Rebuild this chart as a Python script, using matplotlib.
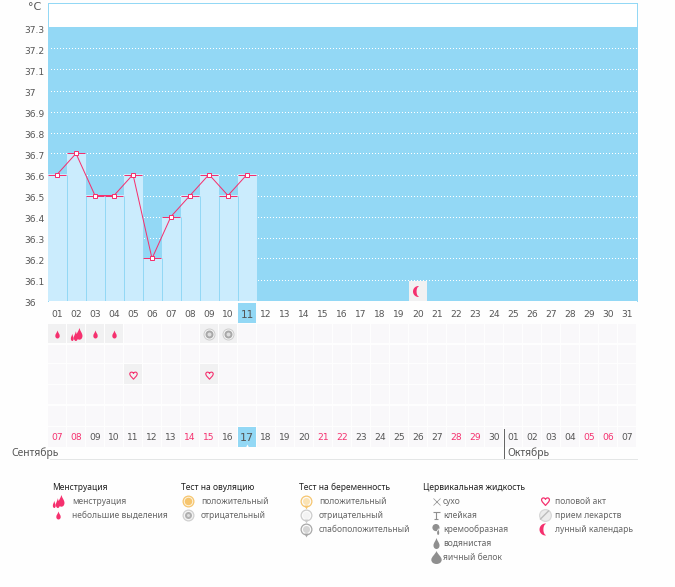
import numpy as np
import matplotlib
matplotlib.use("Agg")
import matplotlib.pyplot as plt
from matplotlib.path import Path
from matplotlib.patches import Rectangle
from matplotlib.transforms import Affine2D

# ---------- data ----------
days = list(range(1, 32))
temps = [36.6, 36.7, 36.5, 36.5, 36.6, 36.2, 36.4, 36.5, 36.6, 36.5, 36.6]
temp_days = days[:len(temps)]
y_ticks = [36, 36.1, 36.2, 36.3, 36.4, 36.5, 36.6, 36.7, 36.8, 36.9, 37, 37.1, 37.2, 37.3]
y_labels = ["36", "36.1", "36.2", "36.3", "36.4", "36.5", "36.6", "36.7", "36.8", "36.9", "37", "37.1", "37.2", "37.3"]
cycle_labels = [f"{d:02d}" for d in days]
cal_labels = ["07","08","09","10","11","12","13","14","15","16","17","18","19","20","21","22",
              "23","24","25","26","27","28","29","30","01","02","03","04","05","06","07"]
weekend_days = [1, 2, 8, 9, 15, 16, 22, 23, 29, 30]
today = 11
light_days = [1, 3, 4]
heavy_days = [2]
ovul_neg_days = [9, 10]
sex_days = [5, 9]
moon_days = [20]

leg_titles = ["Менструация", "Тест на овуляцию", "Тест на беременность", "Цервикальная жидкость"]
leg_mens = ["менструация", "небольшие выделения"]
leg_ovul = ["положительный", "отрицательный"]
leg_preg = ["положительный", "отрицательный", "слабоположительный"]
leg_fluid = ["сухо", "клейкая", "кремообразная", "водянистая", "яичный белок"]
leg_other = ["половой акт", "прием лекарств", "лунный календарь"]

# ---------- style ----------
W, H = 675, 587
BLUE = "#93d8f5"; PALE = "#cbecfd"; PINK = "#f5306e"; TXT = "#555555"
CELL = "#f9f8fa"; CELL_ON = "#f1f1f2"
plt.rcParams["font.family"] = ["DejaVu Sans"]
FS = 6.6
LEG_FONT = ["Noto Sans", "DejaVu Sans"]
LFS = 6.1

def drop(cx=0.0, cy=0.0, w=1.0, h=1.0):
    v = np.array([(0, 1), (0.15, .45), (.55, .1), (.55, -.35), (.55, -.8), (.25, -1), (0, -1),
                  (-.25, -1), (-.55, -.8), (-.55, -.35), (-.55, .1), (-.15, .45), (0, 1), (0, 1)], float)
    v = v * [w, h] + [cx, cy]
    c = [Path.MOVETO] + [Path.CURVE4] * 12 + [Path.CLOSEPOLY]
    return Path(v, c)

def crescent():
    t = np.linspace(np.pi * .5, np.pi * 1.5, 40)
    outer = np.c_[np.cos(t), np.sin(t)]
    inner = np.c_[0.1 + .45 * np.cos(t[::-1]), .92 * np.sin(t[::-1])]
    return Path(np.r_[outer, inner, outer[:1]], closed=True)

def heart():
    v = np.array([(0, -1), (-.4, -.5), (-1, -.1), (-1, .45), (-1, .95), (-.25, 1.15), (0, .55),
                  (.25, 1.15), (1, .95), (1, .45), (1, -.1), (.4, -.5), (0, -1), (0, -1)], float)
    return Path(v, [Path.MOVETO] + [Path.CURVE4] * 12 + [Path.CLOSEPOLY])

DROP = drop()
HEAVY = Path.make_compound_path(drop(.45, .1, .85, .9), drop(-.1, -.25, .55, .75), drop(-.65, -.45, .4, .55))
MOON = crescent(); HEART = heart()
COMMA = Path.make_compound_path(Path.circle((-.1, .35), .65), drop(.3, -.35, .35, .65))
GLASS = Path([(-1, 1), (1, 1), (0, 1), (0, -1), (-.6, -1), (.6, -1)],
             [Path.MOVETO, Path.LINETO, Path.MOVETO, Path.LINETO, Path.MOVETO, Path.LINETO])

def ms(px):
    return px * 0.72

fig = plt.figure(figsize=(W / 100, H / 100), dpi=100, facecolor="#fefefe")

def px_axes(x0, x1, ytop, ybot):
    return fig.add_axes([x0 / W, 1 - ybot / H, (x1 - x0) / W, (ybot - ytop) / H])

X0, X1 = 47.5, 636.5
PXU = 210.0                      # pixels per degree
Y_BOT = 36 - .5 / PXU            # pixel row 301
Y_BAND = 37.3 + .5 / PXU         # pixel row 27
Y_TOP = 37.3 + 24.5 / PXU        # pixel row 3
# ---------- main chart ----------
ax = px_axes(X0, X1, 3, 301)
ax.set_xlim(.5, 31.5)
ax.set_ylim(Y_BOT, Y_TOP)
ax.set_facecolor("white")
ax.axhspan(Y_BOT, Y_BAND, color=BLUE, lw=0, zorder=1)
grid = ax.hlines(y_ticks[:-1], .5, 31.5, color="white", lw=.72, linestyles=(.5, (1, 2)), zorder=2)
grid.set_snap(True)
ax.bar(temp_days, np.array(temps) - Y_BOT, bottom=Y_BOT, width=1, color=PALE, lw=0, zorder=3)
seps = ax.vlines(np.array(temp_days[:-1]) + .5, Y_BOT, np.minimum(temps[:-1], temps[1:]), color=BLUE, lw=.72, zorder=3.5)
seps.set_snap(True)
tops = ax.hlines(temps, np.array(temp_days) - .47, np.array(temp_days) + .47, color=PINK, lw=.72, zorder=4)
tops.set_snap(True)
ax.plot(temp_days, temps, color=PINK, lw=.72, marker="s", ms=ms(4), mfc="white", mec=PINK, mew=.72, zorder=5)
ax.bar(moon_days, [20 / PXU] * len(moon_days), bottom=Y_BOT, width=18 / 19, color=CELL_ON, lw=0, zorder=3)
ax.plot(moon_days, [36.045] * len(moon_days), ls="", marker=MOON, ms=ms(11), color=PINK, mew=0, zorder=5)
for s in ("top", "left", "right"):
    ax.spines[s].set_color(BLUE); ax.spines[s].set_linewidth(.72)
ax.spines["bottom"].set_visible(False)
ax.set_yticks(y_ticks, y_labels, fontsize=FS, color=TXT, ha="left")
ax.tick_params(axis="y", length=0, pad=17)
shift = Affine2D().translate(0, -2)
for lab in ax.get_yticklabels():
    lab.set_transform(lab.get_transform() + shift)
ax.set_xticks(days, cycle_labels, fontsize=FS, color=TXT)
ax.tick_params(axis="x", length=0, pad=6.5)
ax.get_xticklabels()[today - 1].set_fontsize(7.6)
ax.add_patch(Rectangle((today - 9 / 19, Y_BOT - 22 / PXU), 18 / 19, 20 / PXU,
                       color=BLUE, lw=0, clip_on=False, zorder=0))

# ---------- calendar rows (y in pixels) ----------
cal = px_axes(X0, X1, 302, 459)
cal.set_xlim(.5, 31.5); cal.set_ylim(459, 302); cal.axis("off")
rows = [(324, 343), (345, 363), (364, 384), (385, 404), (406, 426), (427, 447)]
for top, bot in rows:
    cal.bar(days, bot - top, bottom=top, width=18 / 19, color=CELL, lw=0, zorder=1)
r_y = [(a + b) / 2 for a, b in rows]
on = [(light_days + heavy_days, 0), (ovul_neg_days, 0), (sex_days, 2)]
for ds, r in on:
    cal.bar(ds, rows[r][1] - rows[r][0], bottom=rows[r][0], width=18 / 19, color=CELL_ON, lw=0, zorder=2)
cal.bar([today], rows[5][1] - rows[5][0], bottom=rows[5][0], width=18 / 19, color=BLUE, lw=0, zorder=2)
cal.plot([today], [446], ls="", marker="^", ms=ms(4), color="white", mew=0, zorder=3)

cal.plot(light_days, [r_y[0]] * len(light_days), ls="", marker=DROP, ms=ms(8), color=PINK, mew=0, zorder=4)
cal.plot(heavy_days, [r_y[0]] * len(heavy_days), ls="", marker=HEAVY, ms=ms(13), color=PINK, mew=0, zorder=4)
for size, col in ((12, "#cdcdcd"), (10, "#f6f6f6"), (8, "#a8a8a8"), (4, "#dedede")):
    cal.plot(ovul_neg_days, [r_y[0]] * len(ovul_neg_days), ls="", marker="o", ms=ms(size), color=col, mew=0, zorder=4)
cal.plot(sex_days, [r_y[2] + .5] * len(sex_days), ls="", marker=HEART, ms=ms(8.5), mfc="none", mec=PINK, mew=.8, zorder=4)
for d, t in zip(days, cal_labels):
    big = d == today
    cal.text(d, r_y[5] + .5, t, ha="center", va="center", fontsize=8 if big else FS,
             color=PINK if d in weekend_days else TXT, zorder=5)

# ---------- page overlay ----------
pg = px_axes(0, W, 0, H)
pg.set_xlim(0, W); pg.set_ylim(H, 0); pg.axis("off"); pg.patch.set_alpha(0)
T = dict(ha="left", va="center", fontsize=LFS, color="#666666", family=LEG_FONT)
H1 = dict(ha="left", va="center", fontsize=LFS, color="#222222", family=LEG_FONT, fontweight="medium")
pg.text(28, 7, "°C", ha="left", va="center", fontsize=8, color=TXT)
pg.text(11.5, 453, "Сентябрь", ha="left", va="center", fontsize=7.4, color=TXT, family=LEG_FONT)
pg.text(507, 453, "Октябрь", ha="left", va="center", fontsize=7.4, color=TXT, family=LEG_FONT)
pg.plot([503.5, 503.5], [429, 458], color="#666666", lw=.72)
pg.plot([50, 637], [458.5, 458.5], color="#e4e6e6", lw=.72)
pg.plot([45, 637], [586.5, 586.5], color="#e8e8e8", lw=.72)

ly = [501, 515, 529, 543, 557]
for x, t in zip([52, 181, 299, 423], leg_titles):
    pg.text(x, 487, t, **H1)
for labels, x in ((leg_mens, 72), (leg_ovul, 201), (leg_preg, 319), (leg_fluid, 443), (leg_other, 555)):
    for t, y in zip(labels, ly):
        pg.text(x, y, t, **T)

def mark(x, y, m, px, **k):
    k.setdefault("color", PINK); k.setdefault("mew", 0)
    pg.plot([x], [y], ls="", marker=m, ms=ms(px), **k)

mark(57.5, 501, HEAVY, 13); mark(57.5, 515, DROP, 8)
for size, col in ((12, "#f6c56e"), (9.5, "#fdf3de"), (7.5, "#f6c56e")):
    mark(187.5, 501, "o", size, color=col)
for size, col in ((12, "#d0d0d0"), (9.5, "#f4f4f4"), (7, "#b0b0b0"), (3, "#dddddd")):
    mark(187.5, 515, "o", size, color=col)
for y, c1, c2 in ((501, "#f6c56e", "#fbe3b4"), (515, "#cccccc", "#f3f3f3"), (529, "#a8a8a8", "#d5d5d5")):
    mark(306, y, "o", 12, color=c1); mark(306, y, "o", 9.5, color="#fbfbfb"); mark(306, y, "o", 7, color=c2)
    mark(306, y + 5.5, "v", 4, color=c1)
GR = "#8f8f8f"
mark(435.5, 501, "x", 7, color=GR, mew=.5)
mark(435.5, 515, GLASS, 7, color=GR, mew=.8, mfc="none")
mark(435.5, 529, COMMA, 11, color=GR)
mark(435.5, 543, DROP, 11, color=GR)
mark(435.5, 557, drop(0, 0, 1.45, 1), 13, color=GR)
mark(544.5, 501, HEART, 9, mfc="none", mec=PINK, mew=.9, color=PINK)
mark(544.5, 515, "o", 13, color="#d8d8d8"); mark(544.5, 515, "o", 10.5, color="#ececec")
pg.plot([540.5, 548.5], [519, 511], color="#bcbcbc", lw=1)
mark(544.5, 529, MOON, 12)

fig.savefig("out.png", dpi=100, facecolor=fig.get_facecolor())
